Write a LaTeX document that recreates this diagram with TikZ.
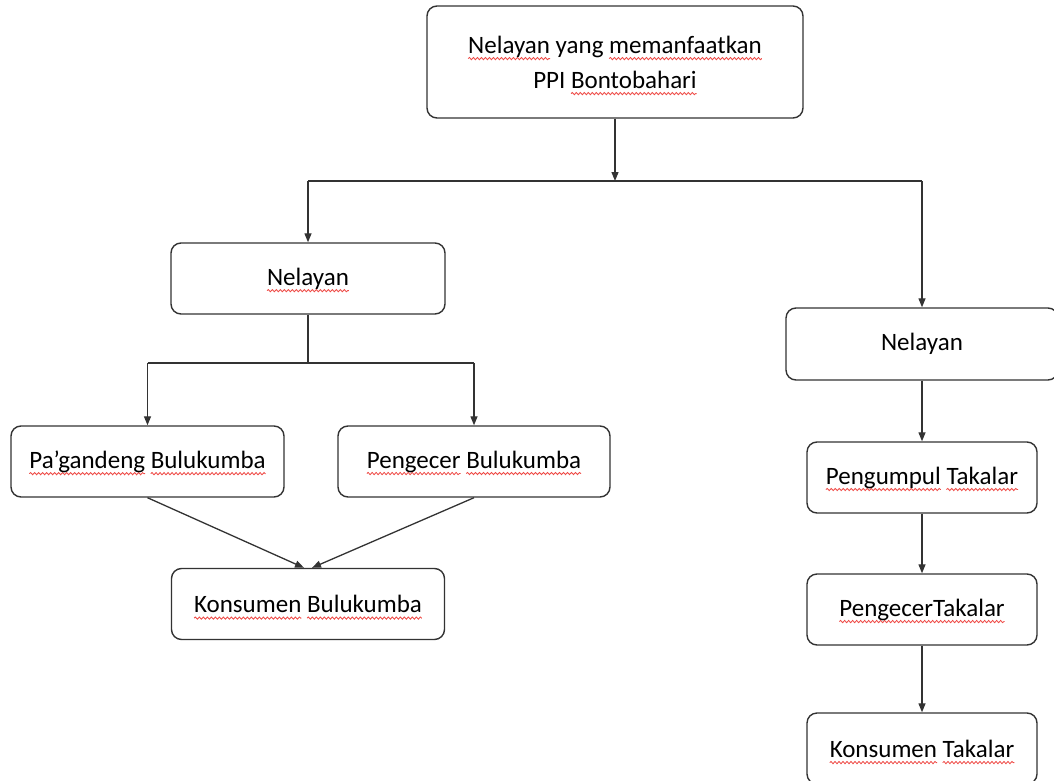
\documentclass[tikz,border=0pt]{standalone}
\usepackage{fontspec}
\setmainfont{Carlito}
\usetikzlibrary{arrows.meta,decorations.pathmorphing}
\definecolor{wavered}{HTML}{EE4B47}
\definecolor{linegray}{HTML}{333333}
% red wavy underline for flagged words
\newcommand\spell[1]{\setbox0=\hbox{#1}\leavevmode\rlap{\tikz[overlay,baseline=0pt,x=1pt,y=1pt]
  \draw[wavered, line width=0.85pt, rounded corners=0pt, decorate,
    decoration={snake, amplitude=1.1pt, segment length=4pt}] (0,-5.5) -- (\the\wd0,-5.5);}\box0\relax}
\tikzset{
  box/.style={draw=linegray, line width=1.4pt, rounded corners=10pt, align=center,
    font=\fontsize{25}{35}\selectfont, inner sep=0pt, text=black},
  link/.style={draw=linegray, line width=1.3pt},
  arr/.style={link, -{Triangle[length=9pt,width=7pt]}},
}
\begin{document}
\begin{tikzpicture}[x=1pt,y=-1pt]
\useasboundingbox (0,0) rectangle (1054,781);
\clip (0,0) rectangle (1054,781);

% boxes
\node[box, minimum width=376pt, minimum height=112pt] (top) at (615,62)
  {\spell{Nelayan} yang \spell{memanfaatkan}\\PPI \spell{Bontobahari}};
\node[box, minimum width=274pt, minimum height=71pt] (nelL) at (308,278.5) {\spell{Nelayan}};
\node[box, minimum width=272pt, minimum height=72pt] (nelR) at (922,344) {Nelayan};
\node[box, minimum width=273pt, minimum height=71pt] (pag) at (147.5,461.5)
  {\spell{Pa’gandeng} \spell{Bulukumba}};
\node[box, minimum width=272pt, minimum height=71pt] (pengB) at (474,461.5)
  {\spell{Pengecer} \spell{Bulukumba}};
\node[box, minimum width=273pt, minimum height=71pt] (konB) at (308,604)
  {\spell{Konsumen} \spell{Bulukumba}};
\node[box, minimum width=230pt, minimum height=71pt] (pengT) at (922,477.5)
  {\spell{Pengumpul} \spell{Takalar}};
\node[box, minimum width=230pt, minimum height=71pt] (pengcT) at (922,609.5)
  {\spell{PengecerTakalar}};
\node[box, minimum width=230pt, minimum height=71pt] (konT) at (922,748.5)
  {\spell{Konsumen} \spell{Takalar}};

% junction points
\coordinate (j0) at (top.south |- 0,181);
\coordinate (jl) at (nelL.north |- 0,181);
\coordinate (jr) at (nelR.north |- 0,181);
\coordinate (s0) at (nelL.south |- 0,363);
\coordinate (sl) at (pag.north |- 0,363);
\coordinate (sr) at (pengB.north |- 0,363);
\coordinate (k1) at ([xshift=-4pt]konB.north);
\coordinate (k2) at ([xshift=4pt]konB.north);

% connectors
\draw[arr] (top.south) -- (j0);
\draw[link] (jl) -- (jr);
\draw[arr] (jl) -- (nelL.north);
\draw[arr] (jr) -- (nelR.north);
\draw[link] (nelL.south) -- (s0);
\draw[link] (sl) -- (sr);
\draw[arr] (sl) -- (pag.north);
\draw[arr] (sr) -- (pengB.north);
\draw[arr] (pag.south) -- (k1);
\draw[arr] (pengB.south) -- (k2);
\draw[arr] (nelR.south) -- (pengT.north);
\draw[arr] (pengT.south) -- (pengcT.north);
\draw[arr] (pengcT.south) -- (konT.north);
\end{tikzpicture}
\end{document}
